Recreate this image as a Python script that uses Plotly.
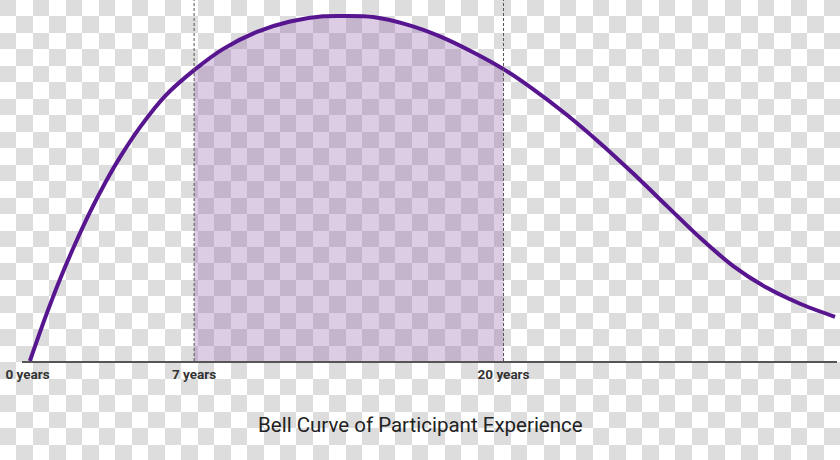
import plotly.graph_objects as go

# Curve readings: years of experience vs relative frequency (peak = 100)
years = [0.1, 0.74, 1.37, 2.0, 2.63, 3.26, 3.89, 4.73, 5.78, 7.0, 8.21, 9.64, 11.03,
         12.42, 13.34, 14.52, 15.95, 17.33, 18.72, 20.0, 21.24, 22.67, 24.05, 25.44,
         26.87, 28.26, 29.64, 31.07, 32.46, 33.93]
freq = [0, 12.5, 23.8, 33.9, 43.2, 51.6, 59.1, 67.8, 76.8, 84.3, 90.4, 95.4, 98.4,
        99.9, 100, 99.7, 97.5, 94.1, 89.5, 84.6, 78.8, 71.3, 63.2, 54.4,
        44.9, 35.7, 27.6, 21.2, 16.6, 12.8]
band_start, band_end = 7, 20
tick_vals = [0, 7, 20]
tick_text = ["0 years", "7 years", "20 years"]
title_text = "Bell Curve of Participant Experience"

W, H = 840, 460
n_cols, n_rows = 51, 28
cell = W / n_cols

fig = go.Figure()

# checkerboard background (transparency pattern) on the full-figure axes
cx = [(i + 0.5) * cell for i in range(n_cols)]
cy = [(j + 0.5) * cell for j in range(n_rows)]
z = [[1 if (i + j) % 2 == 0 else 0 for i in range(n_cols)] for j in range(n_rows)]
fig.add_trace(go.Heatmap(x=cx, y=cy, z=z, colorscale=[[0, "#ffffff"], [1, "#dddddd"]],
                         showscale=False, hoverinfo="skip", xaxis="x", yaxis="y"))

# shaded band between 7 and 20 years
bx = [x for x in years if band_start <= x <= band_end]
by = [v for x, v in zip(years, freq) if band_start <= x <= band_end]
fig.add_trace(go.Scatter(x=bx, y=by, mode="lines",
                         line=dict(width=0, shape="spline", smoothing=0.8),
                         fill="tozeroy", fillcolor="rgba(140,90,170,0.3)",
                         xaxis="x2", yaxis="y2", hoverinfo="skip"))

# main curve
fig.add_trace(go.Scatter(x=years, y=freq, mode="lines",
                         line=dict(color="#57168f", width=4, shape="spline", smoothing=0.8),
                         xaxis="x2", yaxis="y2"))

x0_px, scale = 27.5, 23.8
left_px, right_px, base_px = 22, 837, 361
peak_px = 16
ymax = base_px / (base_px - peak_px) * 100

for v in [band_start, band_end]:
    fig.add_shape(type="line", xref="x2", yref="paper", x0=v, x1=v,
                  y0=(H - base_px) / H, y1=1,
                  line=dict(color="#555555", width=1, dash="3px,2px"))

fig.add_annotation(text=title_text, xref="paper", yref="paper", x=0.5, y=(H - 425) / H,
                   xanchor="center", yanchor="middle",
                   showarrow=False, font=dict(family="Roboto", size=20.5, color="#222222"))

fig.update_layout(
    template="none",
    width=W, height=H, margin=dict(l=0, r=0, t=0, b=0, pad=0, autoexpand=False),
    paper_bgcolor="white", plot_bgcolor="rgba(0,0,0,0)", showlegend=False,
    xaxis=dict(domain=[0, 1], range=[0, W], visible=False, fixedrange=True, automargin=False),
    yaxis=dict(domain=[0, 1], range=[H, 0], visible=False, fixedrange=True, automargin=False),
    xaxis2=dict(domain=[left_px / W, right_px / W],
                range=[(left_px - x0_px) / scale, (right_px - x0_px) / scale],
                anchor="y2", showgrid=False, zeroline=False, showline=True, automargin=False,
                linecolor="#555555", linewidth=1.5, ticks="",
                tickvals=tick_vals, ticktext=tick_text,
                tickfont=dict(family="Roboto", size=13.5, color="#333333", weight=700)),
    yaxis2=dict(domain=[(H - base_px) / H, 1], range=[0, ymax], anchor="x2",
                visible=False, showgrid=False, zeroline=False, automargin=False),
)

fig.write_html("out.html", config={"displayModeBar": False, "staticPlot": True},
               post_script="document.body.style.margin='0';")
